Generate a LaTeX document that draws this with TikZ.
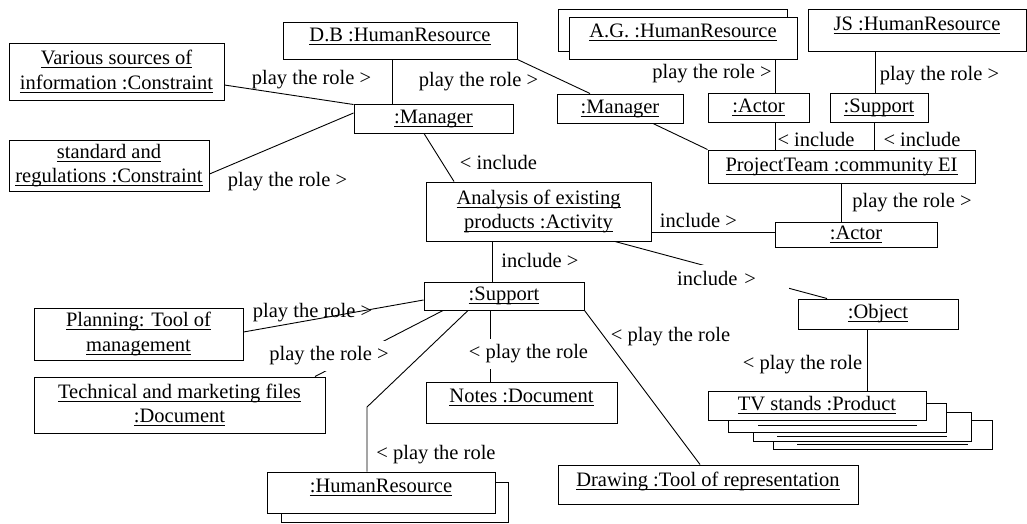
\documentclass[tikz,border=0pt]{standalone}
\usepackage{fontspec}
\setmainfont{Liberation Serif}
\newcommand\ulx[1]{\leavevmode\setbox0=\hbox{#1}\rlap{\copy0}\rule[-3.3pt]{\wd0}{0.8pt}}
\begin{document}
\begin{tikzpicture}[x=1pt,y=-1pt,
  font=\fontsize{20.5}{24.6}\selectfont,
  box/.style={draw, line width=1pt, fill=white, inner sep=0pt, align=center},
  one/.style={text height=14pt, text depth=5pt},
  lbl/.style={inner sep=1pt},
  wl/.style={fill=white, inner sep=2pt},
  conn/.style={line width=0.9pt},
  uline/.style={line width=0.8pt}]
\useasboundingbox (0,0) rectangle (1027,523);

% boxes
\node[box, minimum width=215pt, minimum height=57pt] (various) at (116.5,71.5) {\ulx{Various sources of}\\\ulx{information :Constraint}};
\node[box, minimum width=200pt, minimum height=51pt] (standard) at (109,165.5) {\ulx{standard and}\\\ulx{regulations :Constraint}};
\node[box, one, text depth=11.6pt, minimum width=234pt, minimum height=37pt] (db) at (400,40.5) {\ulx{D.B :HumanResource}};
\node[box, one, minimum width=159pt, minimum height=29pt] (mgr1) at (433.5,118.5) {\ulx{:Manager}};
\node[box, one, minimum width=126pt, minimum height=29pt] (mgr2) at (620,108.5) {\ulx{:Manager}};
\node[box, minimum width=229pt, minimum height=42pt] (agback) at (672.5,30) {};
\node[box, one, text depth=16pt, minimum width=228pt, minimum height=42pt] (ag) at (683,38) {\ulx{A.G. :HumanResource}};
\node[box, one, text depth=14pt, minimum width=218pt, minimum height=42pt] (js) at (917,30) {\ulx{JS :HumanResource}};
\node[box, one, minimum width=101pt, minimum height=29pt] (actor1) at (758.5,107.5) {\ulx{:Actor}};
\node[box, one, minimum width=98pt, minimum height=29pt] (support1) at (879,107.5) {\ulx{:Support}};
\node[box, one, minimum width=267pt, minimum height=33pt] (team) at (841.5,166.5) {\ulx{ProjectTeam :community EI}};
\node[box, one, minimum width=162pt, minimum height=25pt] (actor2) at (856,234.5) {\ulx{:Actor}};
\node[box, minimum width=225pt, minimum height=59pt] (analysis) at (538.5,211.5) {\ulx{Analysis of existing}\\\ulx{products :Activity}};
\node[box, one, minimum width=160pt, minimum height=28pt] (support2) at (504,296) {\ulx{:Support}};
\node[box, one, minimum width=160pt, minimum height=30pt] (object) at (878,314) {\ulx{:Object}};
\node[box, minimum width=209pt, minimum height=52pt] (planning) at (138.5,334) {\ulx{Planning: Tool of}\\\ulx{management}};
\node[box, minimum width=291pt, minimum height=56pt] (technical) at (179.5,405) {\ulx{Technical and marketing files}\\\ulx{:Document}};
\node[box, one, text depth=13.6pt, minimum width=191pt, minimum height=41pt] (notes) at (521.5,402.5) {\ulx{Notes :Document}};
\node[box, minimum width=227pt, minimum height=40pt] (hrback) at (394.5,502) {};
\node[box, one, text depth=13.6pt, minimum width=228pt, minimum height=41pt] (hr) at (381,492.5) {\ulx{:HumanResource}};
\node[box, one, text depth=11pt, minimum width=300pt, minimum height=39pt] (drawing) at (708,484.5) {\ulx{Drawing :Tool of representation}};
\node[box, minimum width=219pt, minimum height=29pt] (tv4) at (882.5,434.5) {};
\draw[uline] (797,444) -- (968,444);
\node[box, minimum width=218pt, minimum height=29pt] (tv3) at (862,426.5) {};
\draw[uline] (777,436) -- (947,436);
\node[box, minimum width=218pt, minimum height=29pt] (tv2) at (837,417.5) {};
\draw[uline] (758,425) -- (917,425);
\node[box, one, minimum width=218pt, minimum height=29pt] (tv) at (817,405.5) {\ulx{TV stands :Product}};

\coordinate (bendq) at (367,407);

% connectors
\draw[conn] ([xshift=-8pt]db.south) -- ([xshift=-8pt]db.south |- mgr1.north);
\draw[conn] (db.south east) -- ([xshift=-30pt]mgr2.north);
\draw[conn] ([yshift=-13.5pt]various.east) -- ([yshift=-1pt]mgr1.north west);
\draw[conn] ([yshift=-8.5pt]standard.east) -- ([yshift=5.5pt]mgr1.west);
\draw[conn] ([xshift=-9.5pt]mgr1.south) -- ([xshift=-84.5pt]analysis.north);
\draw[conn] ([xshift=33pt]mgr2.south) -- (team.north west);
\draw[conn] ([xshift=92pt]ag.south) -- ([xshift=92pt]ag.south |- actor1.north);
\draw[conn] ([xshift=-42pt]js.south) -- ([xshift=-42pt]js.south |- support1.north);
\draw[conn] ([xshift=16.5pt]actor1.south) -- ([xshift=16.5pt]actor1.south |- team.north);
\draw[conn] ([xshift=-5pt]support1.south) -- ([xshift=-5pt]support1.south |- team.north);
\draw[conn] (team.south) -- (team.south |- actor2.north);
\draw[conn] ([yshift=-20.5pt]analysis.east) -- ([yshift=-20.5pt]analysis.east -| actor2.west);
\draw[conn] ([xshift=76.5pt]analysis.south) -- ([xshift=-51pt]object.north);
\draw[conn] ([xshift=-46.5pt]analysis.south) -- ([xshift=-46.5pt]analysis.south |- support2.north);
\draw[conn] ([yshift=2pt]planning.east) -- ([yshift=-4pt]support2.west);
\draw[conn] ([xshift=135.5pt]technical.north) -- ([xshift=-61pt]support2.south);
\draw[conn] ([xshift=-36pt]support2.south) -- (bendq) -- ([xshift=-14pt]hr.north);
\draw[conn] ([xshift=-14pt]support2.south) -- ([xshift=-14pt]support2.south |- notes.north);
\draw[conn] (support2.south east) -- ([xshift=-8pt]drawing.north);
\draw[conn] ([xshift=-11pt]object.south) -- ([xshift=-11pt]object.south |- tv.north);

% labels
\node[lbl] (l1) at (311.5,79.5) {play the role >};
\node[lbl] (l2) at (287.5,181.5) {play the role >};
\node[lbl] (l3) at (478.5,81.5) {play the role >};
\node[lbl] (l4) at (498.5,162.5) {< include};
\node[lbl] (l5) at (712,74) {play the role >};
\node[lbl] (l6) at (939.5,75.5) {play the role >};
\node[lbl] (l7) at (816,139.5) {< include};
\node[lbl] (l8) at (922,139.5) {< include};
\node[lbl] (l9) at (912,202.5) {play the role >};
\node[lbl] (l10) at (698.5,220.5) {include >};
\node[lbl] (l11) at (540,260.5) {include >};
\node[wl, anchor=west, text width=110pt, align=left, minimum height=26pt] (l12) at (675,278) {include >};
\node[lbl] (l13) at (312.5,312.5) {play the role >};
\node[wl, minimum height=30pt] (l14) at (329,356) {play the role >};
\node[wl, minimum height=30pt] (l15) at (528.5,353.5) {< play the role};
\node[lbl] (l16) at (670.5,336.5) {< play the role};
\node[lbl] (l17) at (436,454.5) {< play the role};
\node[lbl] (l18) at (802.5,365) {< play the role};
\end{tikzpicture}
\end{document}
